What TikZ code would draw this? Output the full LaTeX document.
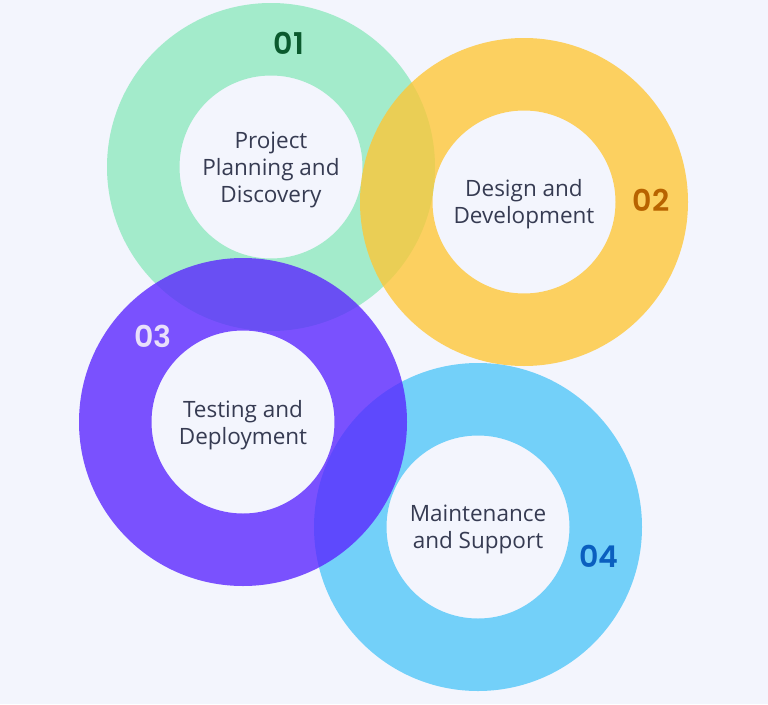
\documentclass[tikz,border=0pt]{standalone}
\usepackage{fontspec}
\setmainfont{Open Sans}
\newfontfamily\numfont{Poppins}[BoldFont={* SemiBold}]
\definecolor{bgc}{HTML}{F3F5FD}
\definecolor{ringA}{HTML}{A3EBCB}
\definecolor{ringB}{HTML}{FFC635}
\definecolor{ringC}{HTML}{5924FF}
\definecolor{ringD}{HTML}{50C6F9}
\definecolor{txt}{HTML}{363B52}
\definecolor{numA}{HTML}{0B5A2E}
\definecolor{numB}{HTML}{B86300}
\definecolor{numC}{HTML}{E8DFFB}
\definecolor{numD}{HTML}{0A5FBF}
\tikzset{
  ring/.style={even odd rule, fill opacity=0.78},
  label/.style={text=txt, align=center, font=\fontsize{22.5}{27}\selectfont, inner sep=0pt},
  num/.style={font=\numfont\fontsize{30}{32}\selectfont\bfseries, inner sep=0pt}
}
\begin{document}
\begin{tikzpicture}[x=1pt,y=-1pt]
\fill[bgc] (0,0) rectangle (768,704);
\useasboundingbox (0,0) rectangle (768,704);
\coordinate (cA) at (271,167);
\coordinate (cB) at (524,202);
\coordinate (cC) at (243,422);
\coordinate (cD) at (478,527);
\fill[ringA, even odd rule] (cA) circle (164pt) (cA) circle (91.5pt);
\fill[ringB, ring] (cB) circle (164pt) (cB) circle (91.5pt);
\fill[ringD, ring] (cD) circle (164pt) (cD) circle (91.5pt);
\fill[ringC, ring] (cC) circle (164pt) (cC) circle (91.5pt);
\node[label] (tA) at (271,170) {Project\\Planning and\\Discovery};
\node[label] (tB) at (524,204) {Design and\\Development};
\node[label] (tC) at (243,425) {Testing and\\Deployment};
\node[label] (tD) at (478,529) {Maintenance\\and Support};
\node[num, text=numA] (nA) at (289,43) {01};
\node[num, text=numB] (nB) at (651,200) {02};
\node[num, text=numC] (nC) at (153,336) {03};
\node[num, text=numD] (nD) at (599,556) {04};
\end{tikzpicture}
\end{document}
